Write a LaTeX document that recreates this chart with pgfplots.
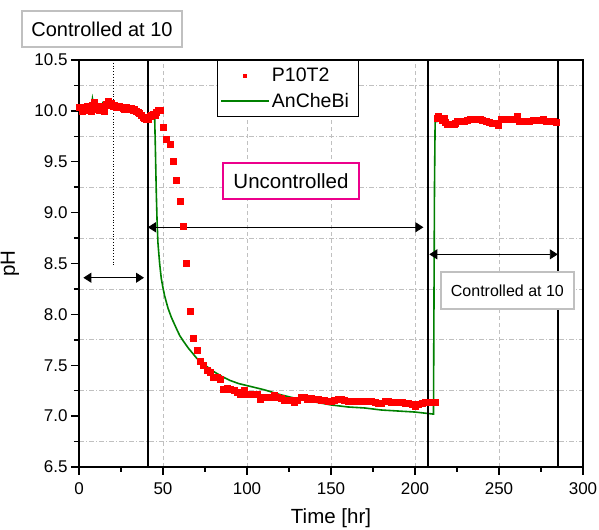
\documentclass[border=0pt]{standalone}
\usepackage{fontspec}
\setmainfont{Liberation Sans}
\usepackage{pgfplots}
\pgfplotsset{compat=1.18}
\usetikzlibrary{arrows.meta}

\definecolor{ogreen}{RGB}{0,128,0}
\definecolor{boxgray}{RGB}{192,192,192}

% P10T2 measurements
\pgfplotstableread{
x y
0 10.04
1 10.04
2 10.00
3 10.03
4 10.02
5 10.05
6 10.01
7 10.00
8 10.06
9 10.09
10 10.02
11 10.05
12 10.01
13 10.05
14 10.03
15 10.00
16 10.07
17 10.10
18 10.06
19 10.08
20 10.05
21 10.06
22 10.04
23 10.05
24 10.05
25 10.04
26 10.03
27 10.02
28 10.04
29 10.03
30 10.02
31 10.03
32 10.01
33 10.02
34 10.00
35 9.99
36 9.98
37 9.96
38 9.94
39 9.93
40 9.92
41 9.92
42 9.95
43 9.96
44 9.97
45 9.96
46 9.99
47 10.01
48 10.01
50 9.84
52 9.72
54 9.67
56 9.51
58 9.32
60 9.11
62 8.87
64 8.50
66 8.03
68 7.77
70 7.65
72 7.54
74 7.50
76 7.45
78 7.43
80 7.38
82 7.38
84 7.36
86 7.27
88 7.28
90 7.27
92 7.26
94 7.24
96 7.22
98 7.26
100 7.22
102 7.22
104 7.22
106 7.22
108 7.17
110 7.19
112 7.19
114 7.19
116 7.21
118 7.19
120 7.18
122 7.16
124 7.16
126 7.16
128 7.14
130 7.16
132 7.19
134 7.19
136 7.17
138 7.18
140 7.17
142 7.17
144 7.16
146 7.16
148 7.15
150 7.15
152 7.16
154 7.17
156 7.17
158 7.16
160 7.15
162 7.15
164 7.15
166 7.15
168 7.15
170 7.15
172 7.15
174 7.15
176 7.14
178 7.13
180 7.13
182 7.15
184 7.15
186 7.14
188 7.14
190 7.14
192 7.14
194 7.13
196 7.13
198 7.12
200 7.10
202 7.12
204 7.13
206 7.14
208 7.14
210 7.14
212 7.14
213 9.93
214 9.95
215 9.93
216 9.91
217 9.93
218 9.89
219 9.87
220 9.87
221 9.87
222 9.87
223 9.87
224 9.88
225 9.90
227 9.90
229 9.90
231 9.91
233 9.92
235 9.92
237 9.92
239 9.92
240 9.91
242 9.90
244 9.89
246 9.88
248 9.88
249.6 9.86
251 9.92
253 9.92
255 9.92
257 9.92
259 9.92
260.5 9.95
262 9.90
264 9.90
266 9.90
268 9.90
270 9.91
272 9.91
274 9.91
276 9.92
278 9.90
280 9.90
282 9.90
284 9.89
}\measured

% AnCheBi model
\pgfplotstableread{
x y
0 10.04
1 10.02
2 10.05
3 10.01
4 10.03
5 10.02
6 10.04
7 10.00
8 10.12
9 10.03
10 10.06
11 10.01
12 10.05
13 10.02
14 10.07
15 10.02
16 10.06
17 10.10
18 10.04
19 10.07
20 10.05
21 10.05
22 10.04
23 10.05
24 10.04
25 10.04
26 10.03
27 10.02
28 10.03
29 10.03
30 10.02
31 10.02
32 10.01
33 10.01
34 10.00
35 9.99
36 9.97
37 9.96
38 9.94
39 9.92
40 9.90
41 9.91
42 9.95
43 9.96
44 9.96
45 9.97
45.5 9.60
46 9.20
46.5 8.90
47 8.70
48 8.50
49 8.35
50 8.26
51 8.18
53 8.06
55 7.97
58 7.86
60 7.79
62 7.74
65 7.67
70 7.57
75 7.50
80 7.44
85 7.39
90 7.35
95 7.32
100 7.30
110 7.26
120 7.21
130 7.17
140 7.14
150 7.11
160 7.09
170 7.08
180 7.06
190 7.05
200 7.04
211 7.02
211.6 9.25
212 9.93
213 9.90
214 9.94
215 9.90
216 9.92
218 9.88
220 9.88
222 9.88
224 9.89
226 9.90
230 9.90
232 9.91
238 9.91
240 9.90
244 9.89
248 9.88
250 9.87
251 9.91
259 9.91
260 9.94
261 9.93
262 9.90
268 9.90
270 9.91
276 9.91
278 9.90
284 9.90
}\model

\begin{document}
\begin{tikzpicture}
\begin{axis}[
  set layers,
  scale only axis,
  width=504pt, height=407pt,
  xmin=0, xmax=300, ymin=6.5, ymax=10.5,
  xtick={0,50,...,300},
  ytick={6.5,7,...,10.5},
  minor x tick num=1,
  minor y tick num=1,
  xmajorgrids=true,
  yminorgrids=true,
  major grid style={boxgray, line width=0.8pt, dash pattern=on 4pt off 3pt},
  minor grid style={boxgray, line width=0.8pt, dash pattern=on 5pt off 2pt on 1pt off 2pt},
  tick align=outside,
  xtick pos=left, ytick pos=left,
  major tick length=8pt, minor tick length=5pt,
  every tick/.style={black, line width=1.4pt},
  axis line style={line width=1.6pt},
  tick label style={font=\fontsize{17}{20}\selectfont},
  xticklabel style={yshift=-4pt},
  /pgf/number format/assume math mode=true,
  yticklabel style={/pgf/number format/.cd, fixed, fixed zerofill, precision=1},
  xlabel={Time [hr]}, ylabel={pH},
  label style={font=\fontsize{20.5}{24}\selectfont},
  xlabel style={at={(axis description cs:0.5,-0.125)}, anchor=center},
  ylabel style={at={(axis description cs:-0.137,0.5)}, anchor=center},
  clip=false,
  legend cell align=left,
  legend style={at={(axis cs:82,10.5)}, anchor=north west, draw=black,
    line width=0.8pt, fill=white, font=\fontsize{19.5}{23}\selectfont,
    inner xsep=3pt, inner ysep=3pt, row sep=0pt,
    nodes={minimum height=25pt}},
]
\addplot[only marks, mark=square*, mark size=3pt, mark layer=pre main,
  mark options={draw=red, fill=red, line width=0.1pt},
  legend image code/.code={\path[draw=none] (0pt,0pt) -- (48pt,0pt);
    \fill[red, draw=none] (22pt,-2.2pt) rectangle (26.4pt,2.2pt);}]
  table[x=x, y=y] {\measured};
\addlegendentry{P10T2}
\addplot[ogreen, line width=1.6pt, mark=none,
  legend image code/.code={\draw[ogreen, line width=1.8pt] (0pt,0pt) -- (48pt,0pt);}]
  table[x=x, y=y] {\model};
\addlegendentry{AnCheBi\hspace*{4pt}}

% phase boundaries
\draw[black, line width=1.8pt] (axis cs:41,6.5) -- (axis cs:41,10.5);
\draw[black, line width=1.8pt] (axis cs:207.7,6.5) -- (axis cs:207.7,10.5);
\draw[black, line width=1.8pt] (axis cs:285,6.5) -- (axis cs:285,10.5);
\draw[black, line width=0.8pt, dotted] (axis cs:20.4,10.5) -- (axis cs:20.4,8.47);

% span arrows
\draw[{Triangle[length=8pt,width=10pt]}-{Triangle[length=8pt,width=10pt]}, line width=0.9pt]
  (axis cs:2.6,8.36) -- (axis cs:38.7,8.36);
\draw[{Triangle[length=8pt,width=10pt]}-{Triangle[length=8pt,width=10pt]}, line width=0.9pt]
  (axis cs:41,8.856) -- (axis cs:205,8.856);
\draw[{Triangle[length=8pt,width=10pt]}-{Triangle[length=8pt,width=10pt]}, line width=0.9pt]
  (axis cs:208.5,8.59) -- (axis cs:285,8.59);

% text boxes
\node[draw=boxgray, line width=2.6pt, fill=white, minimum width=160pt, minimum height=36pt,
  inner sep=0pt, font=\fontsize{20}{23}\selectfont] at (axis cs:13.7,10.805) {Controlled at 10};
\node[draw=magenta, line width=2.3pt, fill=white, minimum width=136pt, minimum height=36pt,
  inner sep=0pt, font=\fontsize{20.5}{23}\selectfont] at (axis cs:126.2,9.31) {Uncontrolled};
\node[draw=boxgray, line width=2.6pt, fill=white, minimum width=133pt, minimum height=37pt,
  inner sep=0pt, font=\fontsize{16}{19}\selectfont] at (axis cs:255,8.235) {Controlled at 10};
\end{axis}
\pgfresetboundingbox
\path[use as bounding box] (current axis.south west) ++(-79pt,-63pt) rectangle ([shift={(16pt,60pt)}]current axis.north east);
\end{tikzpicture}
\end{document}
